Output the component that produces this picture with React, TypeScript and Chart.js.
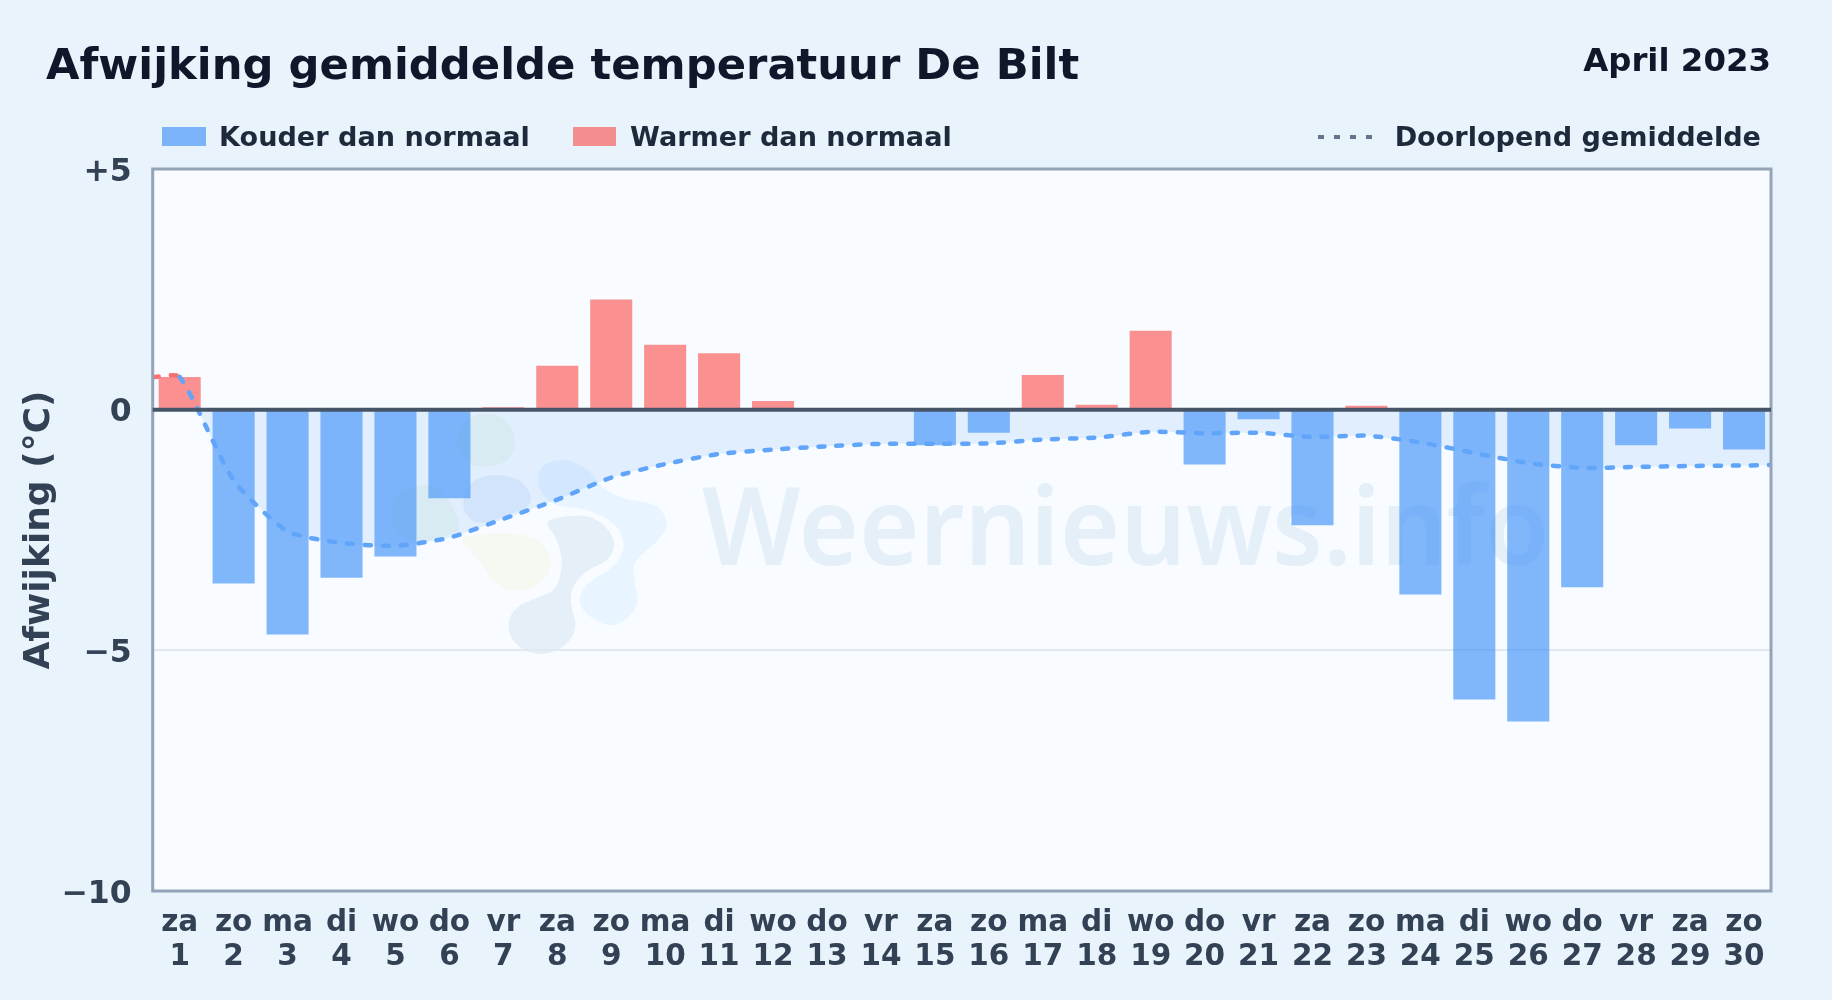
import React, { useEffect, useRef } from "react";
import { Chart, registerables } from "chart.js";

Chart.register(...registerables);

const weekdays = ["za","zo","ma","di","wo","do","vr","za","zo","ma","di","wo","do","vr","za","zo","ma","di","wo","do","vr","za","zo","ma","di","wo","do","vr","za","zo"];
const days = ["1","2","3","4","5","6","7","8","9","10","11","12","13","14","15","16","17","18","19","20","21","22","23","24","25","26","27","28","29","30"];
const deviation = [0.68,-3.61,-4.67,-3.49,-3.05,-1.84,0.05,0.91,2.29,1.35,1.17,0.18,0,0,-0.74,-0.48,0.72,0.1,1.64,-1.14,-0.2,-2.4,0.08,-3.84,-6.02,-6.48,-3.69,-0.74,-0.39,-0.83];
const runningMean = [0.68,-1.47,-2.53,-2.77,-2.83,-2.66,-2.27,-1.87,-1.41,-1.13,-0.92,-0.83,-0.76,-0.71,-0.71,-0.7,-0.62,-0.58,-0.46,-0.49,-0.48,-0.57,-0.54,-0.68,-0.9,-1.11,-1.21,-1.19,-1.17,-1.16];
const yTicks = [5, 0, -5, -10];

const FONT = '"DejaVu Sans"';
const COLD = "rgba(55,140,248,0.62)";
const WARM = "rgba(251,73,70,0.6)";

// Watermark logo outlines (decoration, offset from the logo origin, not data)
const logoBlobs: { color: string; pts: number[][] }[] = [
  { color: "rgba(170,215,150,0.13)", pts: [[195,50],[280,35],[340,80],[350,150],[310,195],[210,205],[160,130]] },
  { color: "rgba(170,215,150,0.13)", pts: [[20,260],[100,250],[150,300],[190,390],[130,410],[50,430],[-20,400],[-30,300]] },
  { color: "rgba(147,190,240,0.18)", pts: [[185,310],[210,240],[290,220],[370,240],[405,310],[330,345],[240,375],[200,350]] },
  { color: "rgba(230,240,190,0.22)", pts: [[170,415],[250,400],[350,400],[430,420],[460,490],[430,550],[340,580],[280,550],[240,480]] },
  { color: "rgba(180,210,230,0.28)", pts: [[320,675],[345,620],[420,590],[470,570],[490,490],[470,410],[430,365],[500,345],[590,350],[650,420],[630,480],[560,510],[515,560],[510,610],[535,690],[480,755],[400,765],[340,730]] },
  { color: "rgba(170,220,255,0.2)", pts: [[410,230],[430,190],[500,175],[570,210],[610,270],[680,300],[770,310],[810,370],[770,430],[700,480],[700,540],[722,620],[640,690],[550,640],[535,590],[570,540],[640,505],[680,440],[650,370],[560,325],[470,320],[420,280]] },
];

function drawBlob(ctx: CanvasRenderingContext2D, pts: number[][]) {
  const p = pts.map(([a, b]) => [400 + a / 3, 400 + b / 3]);
  ctx.beginPath();
  const n = p.length;
  ctx.moveTo((p[n - 1][0] + p[0][0]) / 2, (p[n - 1][1] + p[0][1]) / 2);
  for (let i = 0; i < n; i++) {
    const q = p[(i + 1) % n];
    ctx.quadraticCurveTo(p[i][0], p[i][1], (p[i][0] + q[0]) / 2, (p[i][1] + q[1]) / 2);
  }
  ctx.closePath();
  ctx.fill();
}

const framePlugin = {
  id: "frame",
  beforeDraw(chart: any) {
    const { ctx, chartArea: a } = chart;
    ctx.save();
    ctx.fillStyle = "#f8fbff";
    ctx.fillRect(a.left, a.top, a.right - a.left, a.bottom - a.top);
    for (const b of logoBlobs) {
      ctx.fillStyle = b.color;
      drawBlob(ctx, b.pts);
    }
    ctx.fillStyle = "rgba(180,210,230,0.28)";
    ctx.font = `600 105px "Noto Sans"`;
    ctx.textBaseline = "alphabetic";
    ctx.textAlign = "left";
    ctx.translate(702, 565);
    ctx.scale(0.985, 1.03);
    ctx.fillText("Weernieuws.info", 0, 0);
    ctx.restore();
  },
  afterDatasetsDraw(chart: any) {
    const { ctx, chartArea: a, scales } = chart;
    const y0 = scales.y.getPixelForValue(0);
    ctx.save();
    ctx.strokeStyle = "#94a3b8";
    ctx.lineWidth = 3;
    ctx.strokeRect(a.left, a.top, a.right - a.left, a.bottom - a.top);
    ctx.strokeStyle = "#475569";
    ctx.lineWidth = 4;
    ctx.beginPath();
    ctx.moveTo(a.left, y0);
    ctx.lineTo(a.right, y0);
    ctx.stroke();
    ctx.restore();
  },
};

const abs = (o: React.CSSProperties): React.CSSProperties => ({ position: "absolute", whiteSpace: "nowrap", fontFamily: FONT, fontWeight: 700, lineHeight: 1, ...o });

export default function App() {
  const ref = useRef<HTMLCanvasElement>(null);
  useEffect(() => {
    const chart = new Chart(ref.current!, {
      type: "bar",
      data: {
        labels: weekdays.map((w, i) => [w, days[i]]),
        datasets: [
          {
            type: "line" as const,
            label: "Doorlopend gemiddelde",
            xAxisID: "xLine",
            order: 0,
            data: [
              { x: 0.5, y: runningMean[0] },
              ...runningMean.map((y, i) => ({ x: i + 1, y })),
              { x: 30.5, y: runningMean[29] + 0.01 },
            ] as any,
            borderColor: "#60a5fa",
            borderWidth: 4.5,
            borderDash: [6, 12],
            borderCapStyle: "round",
            pointRadius: 0,
            tension: 0.2,
            fill: { target: "origin", above: "rgba(0,0,0,0)", below: "rgba(96,165,250,0.15)" },
            segment: { borderColor: (c: any) => (c.p1.parsed.y < 0 ? "#60a5fa" : "#f87171") },
          },
          {
            type: "bar" as const,
            label: "Afwijking",
            order: 1,
            data: deviation,
            backgroundColor: deviation.map((v) => (v < 0 ? COLD : WARM)),
            barPercentage: 0.78,
            categoryPercentage: 1,
            grouped: false,
          },
        ],
      },
      options: {
        responsive: false,
        animation: false,
        devicePixelRatio: 1,
        layout: { padding: { left: 0, right: 61, top: 169, bottom: 0 } },
        plugins: { legend: { display: false }, title: { display: false }, tooltip: { enabled: false } },
        scales: {
          x: {
            offset: true,
            grid: { display: false },
            border: { display: false },
            ticks: { autoSkip: false, maxRotation: 0, color: "#334155", padding: 8, font: { family: FONT, weight: "bold", size: 29.5, lineHeight: 1.13 } },
            afterFit: (s: any) => { s.height = 109; },
          },
          xLine: { type: "linear", display: false, offset: false, min: 0.5, max: 30.5 },
          y: {
            min: -10,
            max: 5,
            afterBuildTicks: (s: any) => { s.ticks = yTicks.map((value) => ({ value })); },
            grid: { color: "#e2e8f0", lineWidth: 2, drawTicks: false },
            border: { display: false },
            ticks: {
              color: "#334155",
              padding: 21,
              labelOffset: 3.5,
              font: { family: FONT, weight: "bold", size: 31.5 },
              callback: (v: any) => (v > 0 ? `+${v}` : v < 0 ? `\u2212${-v}` : "0"),
            },
            title: { display: true, text: "Afwijking (°C)", color: "#334155", padding: { top: 18, bottom: 0 }, font: { family: FONT, weight: "bold", size: 36 } },
            afterFit: (s: any) => { s.width = 152.7; },
          },
        },
      },
      plugins: [framePlugin],
    } as any);
    return () => chart.destroy();
  }, []);

  return (
    <div style={{ position: "fixed", left: 0, top: 0, width: 1832, height: 1000, background: "#e9f3fc", overflow: "hidden" }}>
      <canvas ref={ref} width={1832} height={1000} style={{ position: "absolute", left: 0, top: 0, display: "block" }} />
      <div style={abs({ left: 46, top: 43, fontSize: 43.3, color: "#0f172a" })}>Afwijking gemiddelde temperatuur De Bilt</div>
      <div style={abs({ right: 61, top: 44, fontSize: 32.4, color: "#0f172a" })}>April 2023</div>
      <div style={abs({ left: 162, top: 127, width: 44, height: 19, background: COLD })} />
      <div style={abs({ left: 219, top: 123, fontSize: 27.1, color: "#1e293b" })}>Kouder dan normaal</div>
      <div style={abs({ left: 573, top: 127, width: 43, height: 19, background: WARM })} />
      <div style={abs({ left: 630, top: 123, fontSize: 27.1, color: "#1e293b" })}>Warmer dan normaal</div>
      <div style={abs({ left: 1318, top: 135, width: 56, height: 4, background: "repeating-linear-gradient(90deg,#64748b 0 6px,transparent 6px 16px)" })} />
      <div style={abs({ right: 71, top: 123, fontSize: 27.1, color: "#1e293b" })}>Doorlopend gemiddelde</div>
    </div>
  );
}
